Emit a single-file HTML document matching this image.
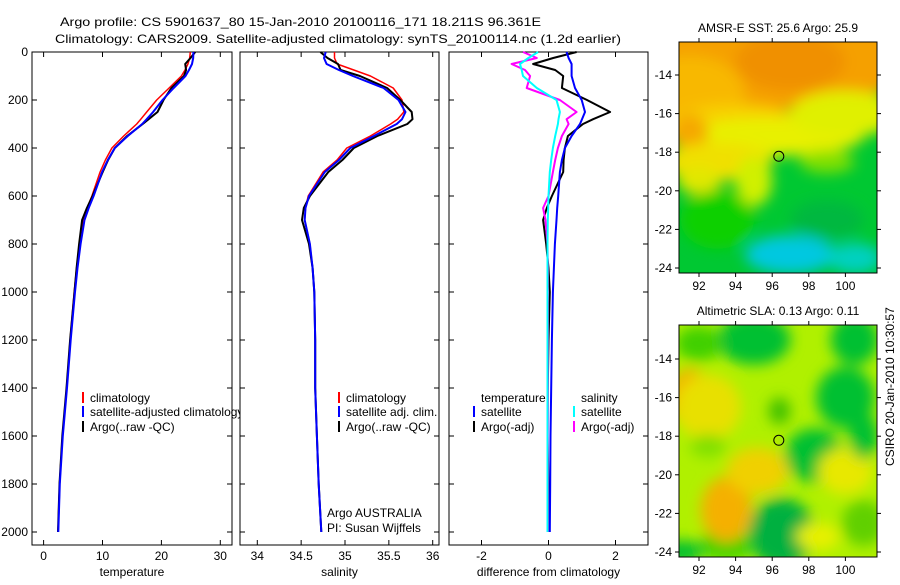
<!DOCTYPE html>
<html><head><meta charset="utf-8"><style>
body{margin:0;background:#fff;}
svg text{font-family:"Liberation Sans",sans-serif;font-size:12px;fill:#000;}
</style></head><body>
<svg id="fig" width="900" height="580" viewBox="0 0 900 580" xmlns="http://www.w3.org/2000/svg">
<defs>
<filter id="blur1" x="-10%" y="-10%" width="120%" height="120%"><feGaussianBlur stdDeviation="7"/></filter>
<clipPath id="cm1"><rect x="679" y="42" width="198" height="231"/></clipPath>
<clipPath id="cm2"><rect x="679" y="325" width="198" height="232"/></clipPath>
<clipPath id="cp1"><rect x="0" y="0" width="240" height="580"/></clipPath>
</defs>
<text x="60" y="26" textLength="481" lengthAdjust="spacingAndGlyphs">Argo profile: CS 5901637_80 15-Jan-2010 20100116_171 18.211S 96.361E</text>
<text x="55" y="43" textLength="566" lengthAdjust="spacingAndGlyphs">Climatology: CARS2009. Satellite-adjusted climatology: synTS_20100114.nc (1.2d earlier)</text>
<g id="panels"></g>
<g id="maps"></g>
</svg>
<script>
const depth=[0,25,50,75,100,150,200,250,280,300,350,400,450,500,600,650,700,800,900,1000,1200,1400,1600,1800,2000];
const tempClim=[24.9,24.8,24.5,24.0,23.4,21.3,19.2,17.5,16.5,15.8,13.6,11.6,10.5,9.6,8.2,7.4,6.7,6.1,5.6,5.2,4.5,3.9,3.2,2.7,2.45];
const tempSat=[25.44,25.4,25.19,24.69,24.09,22.09,20.19,18.59,17.5,16.74,14.29,12.09,10.9,9.94,8.49,7.66,6.94,6.29,5.76,5.33,4.6,3.98,3.26,2.75,2.49];
const tempArgo=[25.74,24.94,24.04,24.2,23.84,21.7,20.35,19.34,17.83,16.83,14.18,12.09,10.95,10.04,8.3,7.35,6.54,6.03,5.6,5.24,4.5,3.88,3.17,2.7,2.45];
const salClim=[34.88,34.88,34.91,35.1,35.29,35.55,35.65,35.67,35.6,35.52,35.29,35.02,34.91,34.75,34.58,34.55,34.54,34.6,34.63,34.65,34.66,34.66,34.68,34.70,34.73];
const salSat=[34.78,34.76,34.79,34.93,35.09,35.44,35.61,35.69,35.65,35.59,35.33,35.06,34.93,34.77,34.59,34.55,34.54,34.6,34.63,34.65,34.66,34.66,34.68,34.70,34.73];
const salArgo=[34.72,34.8,34.92,34.95,35.17,35.48,35.63,35.76,35.77,35.71,35.37,35.1,34.97,34.81,34.6,34.53,34.51,34.59,34.63,34.65,34.66,34.66,34.68,34.70,34.73];
const dTempSat=[0.54,0.6,0.69,0.69,0.69,0.79,0.99,1.09,1.0,0.94,0.69,0.49,0.4,0.34,0.29,0.26,0.24,0.19,0.16,0.13,0.1,0.08,0.06,0.05,0.04];
const dTempArgo=[0.84,0.14,-0.46,0.2,0.44,0.4,1.15,1.84,1.33,1.03,0.58,0.49,0.45,0.44,0.1,-0.05,-0.16,-0.07,0,0.04,0,-0.02,-0.03,0,0];
const dSalSat=[-0.31,-0.6,-0.85,-0.8,-0.76,-0.35,0.24,0.34,0.3,0.28,0.2,0.13,0.08,0.04,0,-0.01,-0.02,-0.03,-0.03,-0.03,-0.03,-0.03,-0.03,-0.03,-0.03];
const dSalArgo=[-0.76,-0.35,-1.1,-0.7,-0.55,-0.65,0.34,0.84,0.54,0.6,0.4,0.28,0.2,0.13,0,-0.16,-0.09,-0.03,-0.02,-0.02,-0.02,-0.02,-0.02,-0.02,-0.02];
const depthTicks=[0,200,400,600,800,1000,1200,1400,1600,1800,2000];
const tempTicks=[0,10,20,30];
const salTicks=[34,34.5,35,35.5,36];
const diffTicks=[-2,0,2];
const lonTicks=[92,94,96,98,100];
const latTicks=[-14,-16,-18,-20,-22,-24];

const NS='http://www.w3.org/2000/svg';
function mk(tag,attrs,parent,txt){const e=document.createElementNS(NS,tag);for(const k in attrs)e.setAttribute(k,attrs[k]);if(txt!==undefined)e.textContent=txt;parent.appendChild(e);return e;}
const yD=d=>52+d*0.24;
const TOP=52,BOT=545;
const panels=document.getElementById('panels');

function panel(name,x0,x1,scale,ticks,label,series,legendFn,zero){
  const g=mk('g',{},panels);
  
  
  const fr=mk('rect',{x:x0,y:TOP,width:x1-x0,height:BOT-TOP,fill:'#fff',stroke:'#000','stroke-width':1},g);
  
  
  depthTicks.forEach(d=>{
    mk('line',{x1:x0,x2:x0+5,y1:yD(d),y2:yD(d),stroke:'#000'},g);
    mk('line',{x1:x1-5,x2:x1,y1:yD(d),y2:yD(d),stroke:'#000'},g);
  });
  ticks.forEach(t=>{
    const x=scale(t);
    mk('line',{x1:x,x2:x,y1:TOP,y2:TOP+5,stroke:'#000'},g);
    mk('line',{x1:x,x2:x,y1:BOT-5,y2:BOT,stroke:'#000'},g);
    const tl=mk('text',{x:x,y:560,'text-anchor':'middle'},g,String(t));
    
    
  });
  const xl=mk('text',{x:(x0+x1)/2,y:576,'text-anchor':'middle'},g,label);
  
  
  if(zero){
    const zl=mk('line',{x1:scale(0),x2:scale(0),y1:TOP,y2:BOT,stroke:'#000','stroke-dasharray':'1,3'},g);
    
    
  }
  series.forEach(s=>{
    const pts=s.vals.map((v,i)=>scale(v).toFixed(1)+','+yD(depth[i]).toFixed(1)).join(' ');
    const pl=mk('polyline',{points:pts,fill:'none',stroke:s.color,'stroke-width':s.w,'stroke-linejoin':'round'},g);
    
    
  });
  legendFn(g);
}
function legItem(g,x,y,color,txt,name){
  const gi=mk('g',{},g);
  
  
  if(color) mk('rect',{x:x,y:y-10,width:2,height:11,fill:color},gi);
  mk('text',{x:x+8,y:y},gi,txt);
}
const sT=t=>43.6+t*5.89;
const sS=s=>257.3+(s-34)*87.7;
const sD=d=>548.5+d*33.5;

panel('temperature-panel',32,232,sT,tempTicks,'temperature',[
  {vals:tempClim,color:'#f00',w:1.5,name:'temp-climatology-line'},
  {vals:tempArgo,color:'#000',w:2,name:'temp-argo-line'},
  {vals:tempSat,color:'#00f',w:2,name:'temp-satellite-line'}],g=>{
    const lg=mk('g',{'clip-path':'url(#cp1)'},g);
    legItem(lg,82,402,'#f00','climatology','legend-entry-climatology');
    legItem(lg,82,416,'#00f','satellite-adjusted climatology','legend-entry-satellite');
    legItem(lg,82,431,'#000','Argo(..raw -QC)','legend-entry-argo');
  });
depthTicks.forEach(d=>{
  const t=mk('text',{x:28,y:yD(d)+4,'text-anchor':'end'},panels,String(d));
  
  
});
panel('salinity-panel',240,439,sS,salTicks,'salinity',[
  {vals:salClim,color:'#f00',w:1.5,name:'sal-climatology-line'},
  {vals:salArgo,color:'#000',w:2,name:'sal-argo-line'},
  {vals:salSat,color:'#00f',w:2,name:'sal-satellite-line'}],g=>{
    legItem(g,338,402,'#f00','climatology','legend-entry-climatology');
    legItem(g,338,416,'#00f','satellite adj. clim.','legend-entry-satellite');
    legItem(g,338,431,'#000','Argo(..raw -QC)','legend-entry-argo');
    legItem(g,319,517,null,'Argo AUSTRALIA','credit-line-1');
    legItem(g,319,532,null,'PI: Susan Wijffels','credit-line-2');
  });
panel('difference-panel',449,648,sD,diffTicks,'difference from climatology',[
  {vals:dTempArgo,color:'#000',w:2,name:'diff-temp-argo-line'},
  {vals:dTempSat,color:'#00f',w:2,name:'diff-temp-satellite-line'},
  {vals:dSalArgo,color:'#f0f',w:2,name:'diff-sal-argo-line'},
  {vals:dSalSat,color:'#0ff',w:2,name:'diff-sal-satellite-line'}],g=>{
    legItem(g,473,402,null,'temperature','legend-header-temperature');
    legItem(g,473,416,'#00f','satellite','legend-entry-temp-satellite');
    legItem(g,473,431,'#000','Argo(-adj)','legend-entry-temp-argo');
    legItem(g,573,402,null,'salinity','legend-header-salinity');
    legItem(g,573,416,'#0ff','satellite','legend-entry-sal-satellite');
    legItem(g,573,431,'#f0f','Argo(-adj)','legend-entry-sal-argo');
  });

// maps
const maps=document.getElementById('maps');
const lonX=l=>699+(l-92)*18.3;
function map(name,top,latTop,title,bg,blobs,clip){
  const g=mk('g',{},maps);
  
  
  const latY=l=>latTop+(-14-l)*19.3;
  const cg=mk('g',{'clip-path':'url(#'+clip+')'},g);
  mk('rect',{x:679,y:top,width:198,height:latY(-24)+5-top,fill:bg},cg);
  const bg2=mk('g',{filter:'url(#blur1)'},cg);
  blobs.forEach(b=>mk('ellipse',{cx:lonX(b[0]),cy:latY(b[1]),rx:b[2]*18.3,ry:b[3]*19.3,fill:b[4]},bg2));
  const bottom=latY(-24)+5;
  const fr=mk('rect',{x:679,y:top,width:198,height:bottom-top,fill:'none',stroke:'#000'},g);
  
  
  lonTicks.forEach(l=>{
    const x=lonX(l);
    mk('line',{x1:x,x2:x,y1:top-4,y2:top,stroke:'#000'},g);
    mk('line',{x1:x,x2:x,y1:bottom,y2:bottom+4,stroke:'#000'},g);
    mk('text',{x:x,y:bottom+17,'text-anchor':'middle'},g,String(l));
  });
  latTicks.forEach(l=>{
    const y=latY(l);
    mk('line',{x1:675,x2:679,y1:y,y2:y,stroke:'#000'},g);
    mk('line',{x1:877,x2:881,y1:y,y2:y,stroke:'#000'},g);
    mk('text',{x:672,y:y+4,'text-anchor':'end'},g,String(l));
  });
  const t=mk('text',{x:778,y:top-10,'text-anchor':'middle'},g,title);
  
  
  const c=mk('circle',{cx:lonX(96.361),cy:latY(-18.211),r:5,fill:'none',stroke:'#000'},g);
  
  
}
map('sst-map',42,75,'AMSR-E SST: 25.6 Argo: 25.9','#00c832',[
  [96,-13,8,2.8,'#f5a000'],[97,-13.3,3,1.5,'#f09000'],[91.5,-15,3,2,'#f8b800'],
  [94,-16.8,4,1.3,'#f8d000'],[96,-17.2,5,1,'#e8f000'],[100,-16,3,1.2,'#e0f000'],
  [91.5,-17,1,1,'#f5a800'],[93,-18.5,3,1,'#f0e000'],[95,-19.5,1,1.3,'#d0f000'],
  [92,-19.5,1.2,0.7,'#e0e800'],[99,-18.5,1.5,0.6,'#80e000'],[97,-23.3,2.5,1,'#00c8e0'],
  [100.5,-23.5,1.5,0.8,'#00d0c0'],[93,-21.5,2,1.5,'#10d000'],[99,-21.5,2,1,'#00b840']
],'cm1');
map('sla-map',325,359,'Altimetric SLA: 0.13 Argo: 0.11','#b0f000',[
  [95,-13,2,1.3,'#00c030'],[100.5,-13,1.3,1.3,'#00c030'],[100,-16,1.6,1.6,'#00c030'],
  [92,-13.2,1.3,0.9,'#40d000'],[98.3,-19,1.6,1.4,'#00c030'],[96.5,-23,1.8,1.8,'#00b040'],
  [93.5,-23.6,1.5,0.8,'#30d000'],[91.5,-16,1.2,1.5,'#f5b000'],[92.5,-16.5,1.8,1.7,'#e8e000'],
  [93.5,-21.8,1.4,1.7,'#f5b000'],[95.2,-19.8,1.7,1.2,'#f0d000'],[98.5,-23.2,1.2,0.7,'#e8f000'],
  [100,-19.8,1.5,1.2,'#e8e800'],[96.4,-16.7,0.6,0.7,'#40c000'],[101,-18,0.8,1.2,'#00c030'],
  [101,-22.5,1.2,1.2,'#60d000'],[91,-24,1.2,0.6,'#00c030'],[92.5,-18.5,1,0.6,'#80e000']
],'cm2');
const side=mk('text',{x:894,y:466,transform:'rotate(-90 894 466)'},maps,'CSIRO 20-Jan-2010 10:30:57');


</script>
</body></html>
